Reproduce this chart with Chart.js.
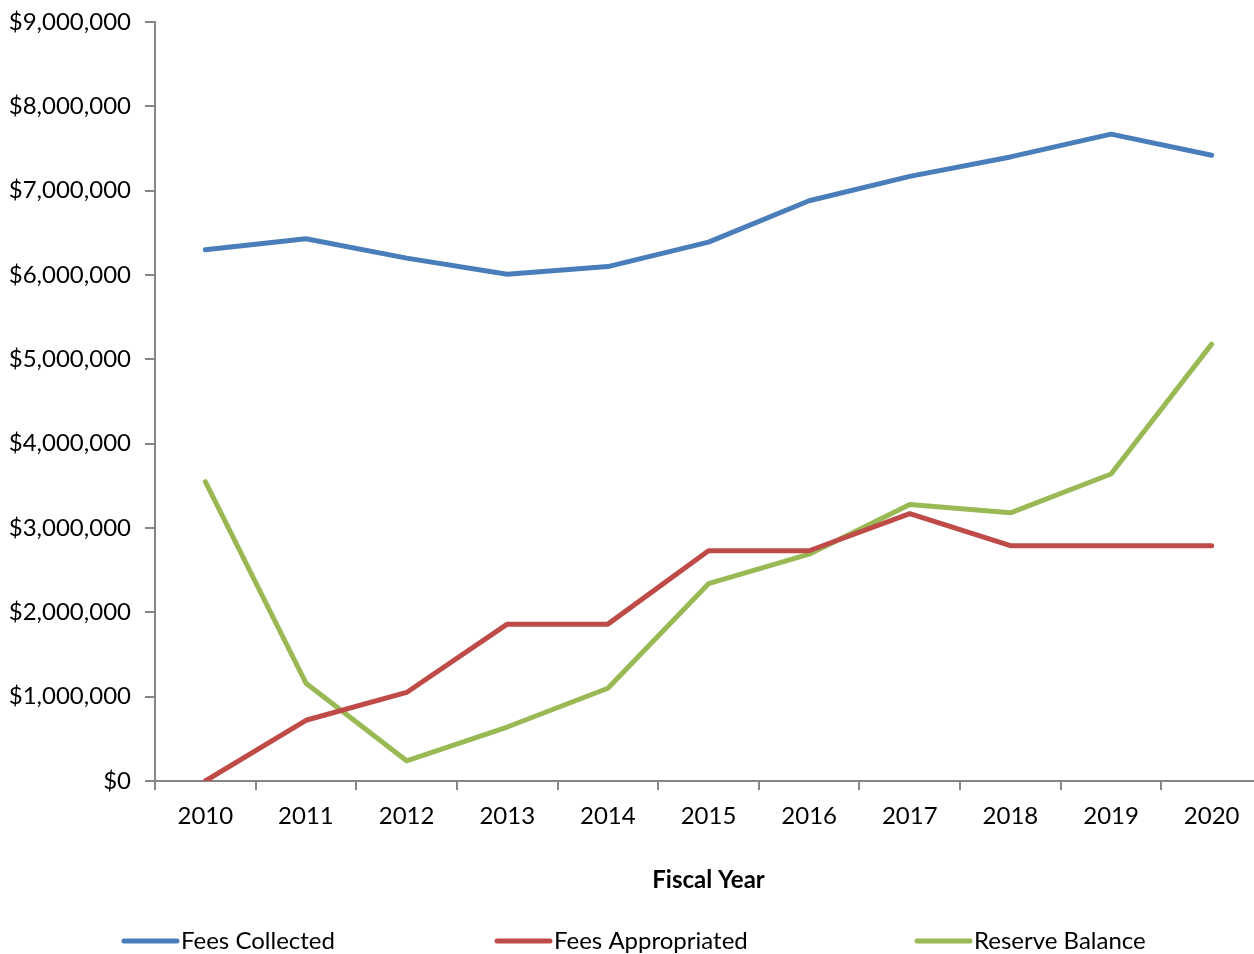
<!DOCTYPE html>
<html>
<head>
<meta charset="utf-8">
<script src="https://cdn.jsdelivr.net/npm/chart.js@4.4.1/dist/chart.umd.min.js"></script>
<style>
  html, body { margin: 0; padding: 0; background: #fff; }
  #wrap { width: 1254px; height: 954px; overflow: hidden; }
</style>
</head>
<body>
<div id="wrap"><canvas id="chart" width="1262" height="954"></canvas></div>
<script>
// fiscal years on the category axis
const years = ['2010', '2011', '2012', '2013', '2014', '2015', '2016', '2017', '2018', '2019', '2020'];

// dollar values
const feesCollected = [6300000, 6430000, 6200000, 6010000, 6100000, 6390000, 6880000, 7170000, 7400000, 7670000, 7420000];
const feesAppropriated = [0, 720000, 1050000, 1860000, 1860000, 2730000, 2730000, 3170000, 2790000, 2790000, 2790000];
const reserveBalance = [3550000, 1160000, 240000, 640000, 1100000, 2340000, 2690000, 3280000, 3180000, 3640000, 5180000];

const FONT = 'Lato, "Open Sans", sans-serif';
const AXIS = '#868686';

// legend laid out like the spreadsheet version: fixed slots along the bottom
const bottomLegend = {
    id: 'bottomLegend',
    afterDraw(chart) {
        const ctx = chart.ctx;
        const slots = [122, 495, 915];
        const y = 941;
        ctx.save();
        ctx.font = '24px ' + FONT;
        ctx.textBaseline = 'middle';
        ctx.fillStyle = '#000';
        chart.data.datasets.forEach((ds, i) => {
            const x = slots[i];
            ctx.strokeStyle = ds.borderColor;
            ctx.lineWidth = 5;
            ctx.lineCap = 'round';
            ctx.beginPath();
            ctx.moveTo(x + 2, y);
            ctx.lineTo(x + 55, y);
            ctx.stroke();
            ctx.fillText(ds.label, x + 59, y);
        });
        ctx.restore();
    }
};

const lineStyle = { borderWidth: 5, pointRadius: 0, tension: 0, fill: false, borderCapStyle: 'round', borderJoinStyle: 'round' };

new Chart(document.getElementById('chart'), {
    type: 'line',
    data: {
        labels: years,
        datasets: [
            { label: 'Fees Collected', data: feesCollected, borderColor: '#4A7EBB', ...lineStyle },
            { label: 'Fees Appropriated', data: feesAppropriated, borderColor: '#BE4B48', ...lineStyle },
            { label: 'Reserve Balance', data: reserveBalance, borderColor: '#98B954', ...lineStyle }
        ]
    },
    options: {
        responsive: false,
        animation: false,
        layout: { padding: { top: 22, right: 0, left: 0, bottom: 0 } },
        plugins: { legend: { display: false }, tooltip: { enabled: false } },
        scales: {
            x: {
                offset: true,
                grid: { display: true, offset: true, drawOnChartArea: false, color: AXIS, lineWidth: 2, tickLength: 9 },
                border: { color: AXIS, width: 2 },
                ticks: { color: '#000', font: { family: FONT, size: 24 }, padding: 12, maxRotation: 0 },
                title: { display: true, text: 'Fiscal Year', color: '#000', font: { family: FONT, size: 24, weight: 'bold' }, padding: { top: 0, bottom: 59 } },
                afterFit(scale) { scale.height = 173; }
            },
            y: {
                min: 0,
                max: 9000000,
                grid: { display: true, drawOnChartArea: false, color: AXIS, lineWidth: 2, tickLength: 10 },
                border: { color: AXIS, width: 2 },
                ticks: {
                    stepSize: 1000000,
                    color: '#000',
                    font: { family: FONT, size: 24, lineHeight: 0.8 },
                    padding: 14,
                    callback: v => '$' + v.toLocaleString('en-US')
                },
                afterFit(scale) { scale.width = 155; scale.paddingTop = 0; }
            }
        }
    },
    plugins: [bottomLegend]
});
</script>
</body>
</html>
